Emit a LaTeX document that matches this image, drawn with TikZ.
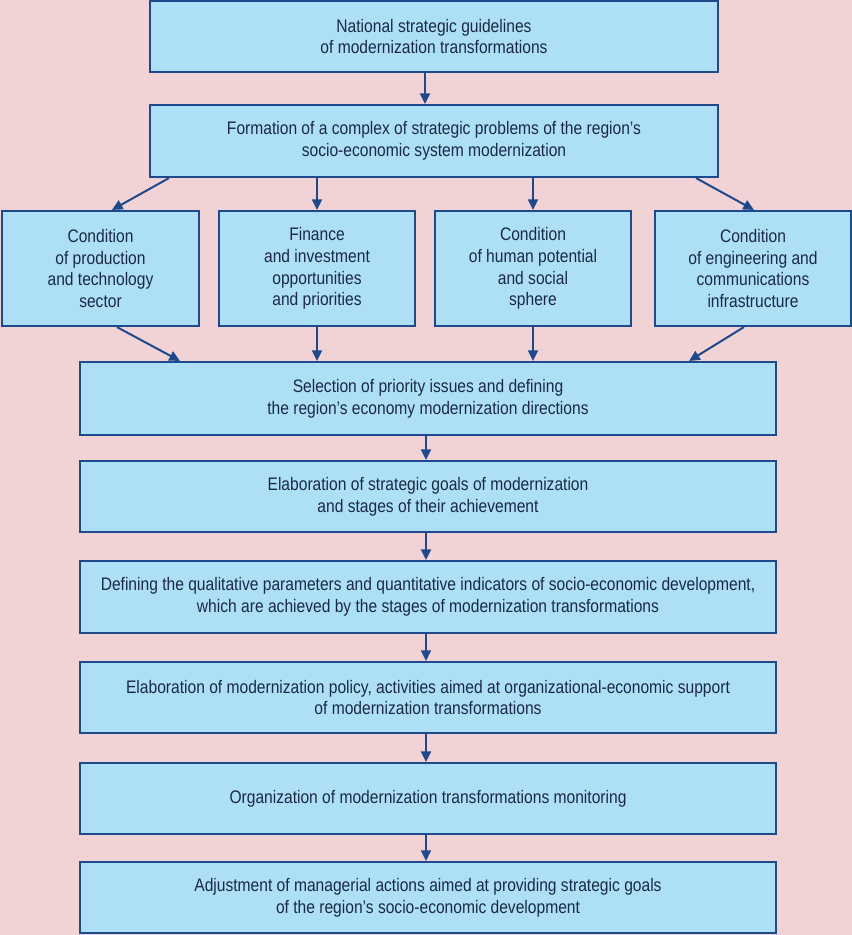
\documentclass[tikz,border=0pt]{standalone}
\usepackage{fontspec}
\setmainfont{Liberation Sans}[FakeStretch=0.86]
\usetikzlibrary{arrows.meta}
\definecolor{bgpink}{HTML}{F1D3D6}
\definecolor{boxfill}{HTML}{ADDFF7}
\definecolor{boxline}{HTML}{1C4A8C}
\definecolor{txt}{HTML}{1B2A44}
\tikzset{
  box/.style={draw=boxline, fill=boxfill, line width=1.6pt, rectangle, inner sep=0pt,
    align=center, text=txt, font=\fontsize{13.6}{16.3}\selectfont},
  arr/.style={draw=boxline, line width=1.5pt, -{Triangle[length=8pt,width=7.5pt]}},
}
\begin{document}
\begin{tikzpicture}[x=0.75pt,y=-0.75pt]
\fill[bgpink] (0,0) rectangle (852,935);
\useasboundingbox (0,0) rectangle (852,935);
% top boxes
\node[box, minimum width=568*0.75pt, minimum height=71*0.75pt] (b1) at (434,36.5)
  {National strategic guidelines\\of modernization transformations};
\node[box, minimum width=568*0.75pt, minimum height=72*0.75pt] (b2) at (434,141)
  {Formation of a complex of strategic problems of the region's\\socio-economic system modernization};
% four condition boxes
\node[box, minimum width=197*0.75pt, minimum height=115*0.75pt] (ca) at (100.5,268.5)
  {Condition\\of production\\and technology\\sector};
\node[box, minimum width=196*0.75pt, minimum height=115*0.75pt] (cb) at (317,268.5)
  {Finance\\and investment\\opportunities\\and priorities};
\node[box, minimum width=196*0.75pt, minimum height=115*0.75pt] (cc) at (533,268.5)
  {Condition\\of human potential\\and social\\sphere};
\node[box, minimum width=196*0.75pt, minimum height=115*0.75pt] (cd) at (753,268.5)
  {Condition\\of engineering and\\communications\\infrastructure};
% lower chain
\node[box, minimum width=696*0.75pt, minimum height=73*0.75pt] (s1) at (428,398.5)
  {Selection of priority issues and defining\\the region's economy modernization directions};
\node[box, minimum width=696*0.75pt, minimum height=71*0.75pt] (s2) at (428,496.5)
  {Elaboration of strategic goals of modernization\\and stages of their achievement};
\node[box, minimum width=696*0.75pt, minimum height=72*0.75pt] (s3) at (428,597)
  {Defining the qualitative parameters and quantitative indicators of socio-economic development,\\which are achieved by the stages of modernization transformations};
\node[box, minimum width=696*0.75pt, minimum height=71*0.75pt] (s4) at (428,697.5)
  {Elaboration of modernization policy, activities aimed at organizational-economic support\\of modernization transformations};
\node[box, minimum width=696*0.75pt, minimum height=71*0.75pt] (s5) at (428,798.5)
  {Organization of modernization transformations monitoring};
\node[box, minimum width=696*0.75pt, minimum height=71*0.75pt] (s6) at (428,897.5)
  {Adjustment of managerial actions aimed at providing strategic goals\\of the region's socio-economic development};
% arrows
\draw[arr] ([xshift=-9*0.75pt]b1.south) -- ([xshift=-9*0.75pt]b2.north);
\draw[arr] ([xshift=20*0.75pt]b2.south west) -- ([xshift=111*0.75pt]ca.north west);
\draw[arr] (b2.south -| cb.north) -- (cb.north);
\draw[arr] (b2.south -| cc.north) -- (cc.north);
\draw[arr] ([xshift=-23*0.75pt]b2.south east) -- ([xshift=100*0.75pt]cd.north west);
\draw[arr] ([xshift=116*0.75pt]ca.south west) -- ([xshift=101*0.75pt]s1.north west);
\draw[arr] (cb.south) -- (s1.north -| cb.south);
\draw[arr] (cc.south) -- (s1.north -| cc.south);
\draw[arr] ([xshift=90*0.75pt]cd.south west) -- ([xshift=-88*0.75pt]s1.north east);
\draw[arr] ([xshift=-2*0.75pt]s1.south) -- ([xshift=-2*0.75pt]s2.north);
\draw[arr] ([xshift=-2*0.75pt]s2.south) -- ([xshift=-2*0.75pt]s3.north);
\draw[arr] ([xshift=-2*0.75pt]s3.south) -- ([xshift=-2*0.75pt]s4.north);
\draw[arr] ([xshift=-2*0.75pt]s4.south) -- ([xshift=-2*0.75pt]s5.north);
\draw[arr] ([xshift=-2*0.75pt]s5.south) -- ([xshift=-2*0.75pt]s6.north);
\end{tikzpicture}
\end{document}
